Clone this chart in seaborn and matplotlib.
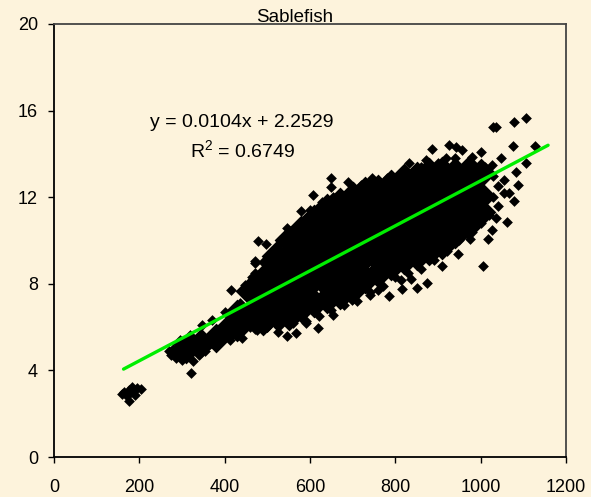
import numpy as np
import pandas as pd
import matplotlib.pyplot as plt
import seaborn as sns

# outer points
cluster_x = [160,165,170,175,175,182,185,190,195,205,322]
cluster_y = [2.9,3.0,2.8,3.1,2.6,3.25,3.0,2.85,3.2,3.15,3.88]

blob_x = [275,285,300,310,325,340,355,365,335,295,318,346,370,400,340,360,380,400,420,385,440,460,280,290,305,320,270,285,300]
blob_y = [4.7,4.55,4.75,5.0,4.45,4.7,4.9,5.2,5.3,5.4,5.63,6.1,6.33,6.7,5.2,5.5,5.7,6.0,6.2,5.3,6.4,6.0,5.0,5.2,5.3,5.0,4.9,4.8,4.5]

lower_x = [412,440,475,524,547,568,618,653,699,786,816,851,875,910,837,814,740,760,590,500]
lower_y = [5.4,5.5,5.87,5.78,5.6,5.73,5.96,6.56,7.25,7.44,7.76,7.8,8.04,8.82,8.2,8.18,7.5,7.7,6.2,6.0]

right_x = [1006,947,1018,1027,975,1062,1036,1078,1055,1067,1088,1055,1083,1106,1127,1076,1048,1027,1001,980,957,926,943,887,919,1029,1036,1078,1106]
right_y = [8.82,9.38,10.07,10.48,10.07,10.85,11.04,11.82,12.19,12.19,12.56,12.79,13.16,13.58,14.37,14.37,13.81,13.49,14.09,13.86,14.18,14.41,14.32,14.23,13.81,15.24,15.24,15.47,15.66]

upper_x = [650,650,688,606,627,580,599,547,571,531,477,498,470,501,699,720,746,790,833,872,653,470,416,447,435,463]
upper_y = [12.89,12.47,12.7,12.1,11.78,11.36,11.41,10.58,10.53,9.98,9.98,9.84,9.05,9.24,12.33,12.56,12.89,13.03,13.58,13.72,12.0,8.96,7.71,7.94,7.11,8.31]

# second ring, just inside the outer points
ring_x = [560,590,620,660,700,740,780,820,860,900,940,980,1010,1030,1040,1030,1040,1020,1000,980,950,920,890,860,830,800,770,740,710,680,650,620,590,560,530,500,470,450,470,490,510,530,545]
ring_y = [10.4,11.0,11.4,11.9,12.4,12.7,12.9,13.2,13.4,13.6,13.8,13.6,13.4,13.0,12.5,12.0,11.6,11.2,10.8,10.4,10.0,9.5,9.1,8.7,8.5,8.3,7.9,7.6,7.2,7.0,6.8,6.5,6.3,6.2,6.1,6.0,5.9,7.5,8.5,9.0,9.5,10.0,10.2]

# the solid middle of the cloud, individual points cant be read there
core_x = [310,345,380,410,440,430,430,460,460,490,490,490,520,520,520,520,550,550,550,550,550,
          580,580,580,580,580,610,610,610,610,610,640,640,640,640,640,640,
          670,670,670,670,670,670,700,700,700,700,700,730,730,730,730,730,
          760,760,760,760,760,760,790,790,790,790,790,820,820,820,820,820,
          850,850,850,850,850,880,880,880,880,880,910,910,910,910,910,
          940,940,940,940,970,970,970,970,1000,1000,1000]
core_y = [5.0,5.25,5.5,5.95,6.3,6.0,6.6,6.55,7.65,6.3,7.1,8.2,6.55,7.65,8.75,9.3,6.5,7.1,8.2,9.3,10.0,
          6.9,7.65,8.75,9.85,10.5,7.1,8.2,9.3,10.4,11.0,7.3,8.0,8.75,9.85,10.95,11.5,
          7.5,8.2,9.3,10.4,11.5,11.8,7.75,8.75,9.85,10.95,12.05,8.2,9.3,10.4,11.5,12.3,
          8.5,9.2,9.85,10.95,12.05,12.4,8.8,9.3,10.4,11.5,12.6,9.1,9.85,10.95,12.05,12.9,
          9.3,10.4,11.5,12.6,13.0,9.5,9.85,10.95,12.05,13.15,9.8,10.4,11.5,12.6,13.2,
          10.3,10.95,12.05,13.15,10.7,11.5,12.6,13.2,11.3,12.05,13.1]

trend_x = [163,1158]
trend_y = [4.06,14.4]

x_ticks = [0,200,400,600,800,1000,1200]
y_ticks = [0,4,8,12,16,20]

bg = '#FDF3DC'

sns.set_style('ticks')
plt.rcParams['font.family'] = ['Liberation Sans', 'DejaVu Sans']
plt.rcParams['mathtext.default'] = 'regular'
plt.rcParams['text.color'] = 'black'

fig = plt.figure(figsize=(5.91,4.97), dpi=100, facecolor=bg)
ax = fig.add_axes([54/591, 1-457/497, (566-54)/591, (457-24)/497], facecolor=bg)

pts = pd.DataFrame({'x': cluster_x+blob_x+lower_x+right_x+upper_x+ring_x,
                    'y': cluster_y+blob_y+lower_y+right_y+upper_y+ring_y})
core = pd.DataFrame({'x': core_x, 'y': core_y})
trend = pd.DataFrame({'x': trend_x, 'y': trend_y})

sns.scatterplot(data=core, x='x', y='y', marker='D', s=230, color='black', linewidth=0, ax=ax, legend=False)
sns.scatterplot(data=pts, x='x', y='y', marker='D', s=30, color='black', linewidth=0, ax=ax, legend=False)
sns.lineplot(data=trend, x='x', y='y', color='#00EE00', linewidth=2.4, ax=ax, legend=False, errorbar=None)

ax.set_xlim(0,1200)
ax.set_ylim(0,20)
ax.set_xticks(x_ticks)
ax.set_yticks(y_ticks)
ax.set_xlabel('')
ax.set_ylabel('')
ax.tick_params(axis='x', bottom=True, direction='out', labelsize=13, length=4.5, width=1.0, color='black', labelcolor='black', pad=11)
ax.tick_params(axis='y', left=True, direction='out', labelsize=13, length=4.5, width=1.0, color='black', labelcolor='black', pad=7)
for s in ['left','bottom']:
    ax.spines[s].set_color('black')
    ax.spines[s].set_linewidth(1.3)
for s in ['top','right']:
    ax.spines[s].set_visible(True)
    ax.spines[s].set_color('#444444')
    ax.spines[s].set_linewidth(1.3)

ax.text(565, 20.08, 'Sablefish', fontsize=13.5, ha='center', va='baseline')
ax.text(440, 15.43, 'y = 0.0104x + 2.2529', fontsize=14, ha='center', va='center')
ax.text(441, 14.18, 'R$^2$ = 0.6749', fontsize=14, ha='center', va='center')

fig.savefig('out.png', dpi=100, facecolor=bg)
